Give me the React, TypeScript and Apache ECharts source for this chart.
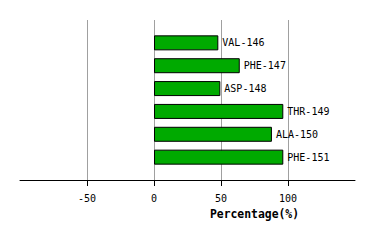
import React, { useEffect, useRef } from "react";
import * as echarts from "echarts";

const categories = ["VAL-146", "PHE-147", "ASP-148", "THR-149", "ALA-150", "PHE-151"];
const values = [48, 64, 49.5, 96.5, 88, 96.5];
const xTicks = [-50, 0, 50, 100];
const xMin = -100;
const xMax = 150;
const xName = "Percentage(%)";

const FONT = "'DejaVu Sans Mono', monospace";

export default function App() {
  const ref = useRef<HTMLDivElement>(null);
  useEffect(() => {
    if (!ref.current) return;
    const chart = echarts.init(ref.current, undefined, { renderer: "svg" });
    const yData = [" ", ...categories, "  "];
    const sData: any[] = ["-", ...values, "-"];
    chart.setOption({
      animation: false,
      backgroundColor: "#ffffff",
      grid: { left: 20, right: 19, top: 20, bottom: 60, containLabel: false },
      xAxis: {
        type: "value",
        min: xMin,
        max: xMax,
        interval: 50,
        axisLine: { show: true, lineStyle: { color: "#000", width: 1 } },
        axisTick: { show: true, length: 6, lineStyle: { color: "#000" }, customValues: xTicks },
        axisLabel: {
          customValues: xTicks,
          margin: 13,
          color: "#000",
          fontFamily: FONT,
          fontSize: 10,
        },
        splitLine: { show: true, lineStyle: { color: "#a0a0a0", width: 1 } },
      },
      yAxis: {
        type: "category",
        data: yData,
        inverse: true,
        boundaryGap: false,
        axisLine: { show: false },
        axisTick: { show: false },
        axisLabel: { show: false },
        splitLine: { show: false },
      },
      graphic: [
        {
          type: "text",
          x: 254.5,
          y: 214,
          style: {
            text: xName,
            fill: "#000",
            font: `bold 11.4px ${FONT}`,
            textAlign: "center",
            textVerticalAlign: "middle",
          },
        },
      ],
      series: [
        {
          type: "bar",
          data: sData,
          barWidth: 15,
          itemStyle: { color: "#00aa00", borderColor: "#000", borderWidth: 1 },
          label: {
            show: true,
            position: "right",
            distance: 4,
            formatter: (p: any) => yData[p.dataIndex],
            color: "#000",
            fontFamily: FONT,
            fontSize: 10,
          },
        },
      ],
    });
    return () => chart.dispose();
  }, []);
  return (
    <div
      ref={ref}
      style={{ position: "fixed", left: 0, top: 0, width: 374, height: 240 }}
    />
  );
}
